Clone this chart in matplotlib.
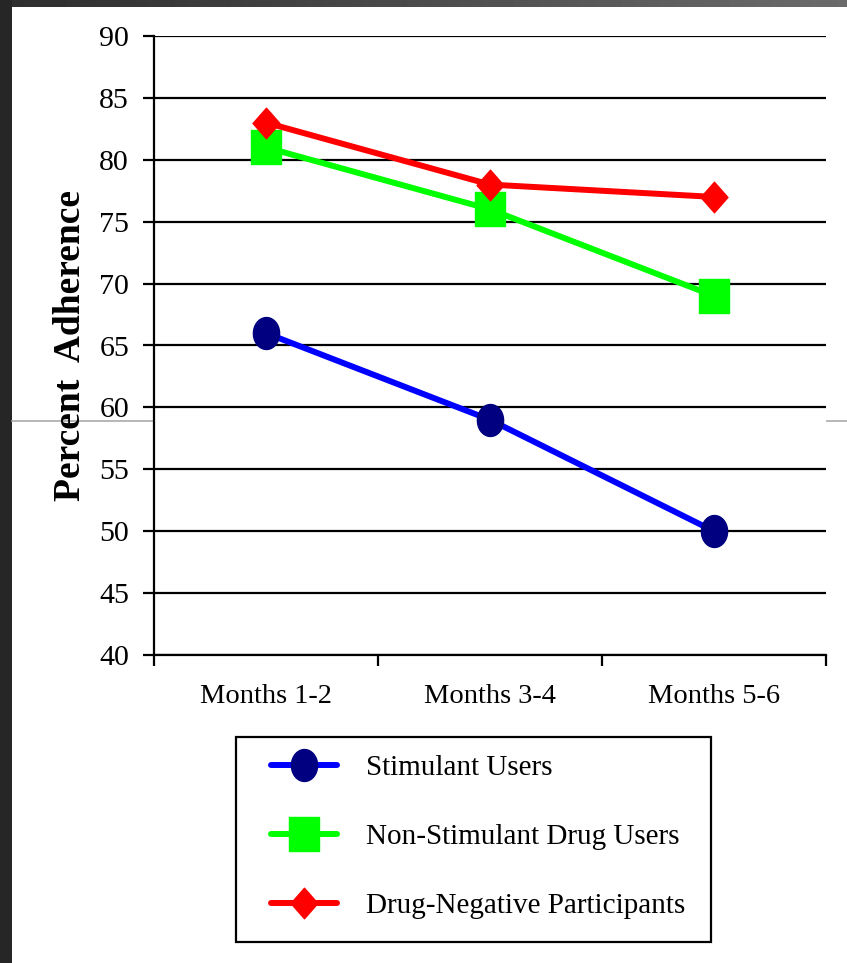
import numpy as np
import matplotlib
matplotlib.use("Agg")
import matplotlib.pyplot as plt
from matplotlib.path import Path
from matplotlib.patches import Rectangle

plt.rcParams["font.family"] = ["Liberation Serif", "DejaVu Serif"]

periods = ["Months 1-2", "Months 3-4", "Months 5-6"]
stimulant = [66, 59, 50]
non_stimulant = [81, 76, 69]
drug_negative = [83, 78, 77]
series_names = ["Stimulant Users", "Non-Stimulant Drug Users", "Drug-Negative Participants"]
y_ticks = [40, 45, 50, 55, 60, 65, 70, 75, 80, 85, 90]

W, H = 847, 963
fig = plt.figure(figsize=(W / 100, H / 100), dpi=100)

# slide frame: dark strip on the left, grey gradient strip on top
bg = fig.add_axes([0, 0, 1, 1], zorder=-10)
bg.set_axis_off()
bg.set_xlim(0, W)
bg.set_ylim(H, 0)
bg.add_patch(Rectangle((0, 0), 12, H, color="#262626", lw=0))
grad = np.linspace(0.18, 0.42, 256)[None, :]
bg.imshow(grad, cmap="gray", vmin=0, vmax=1, extent=(12, W, 7, 0), aspect="auto")
bg.add_patch(Rectangle((12, 7), W - 12, H - 7, color="white", lw=0))
bg.plot([12, W], [421, 421], color="#aaaaaa", lw=1.2)
# legend frame
bg.add_patch(Rectangle((236, 737), 711 - 236, 942 - 737, fill=False,
                       edgecolor="black", lw=1.6))

# slightly tall marker shapes
t = np.linspace(0, 2 * np.pi, 64)
tall_circle = Path(np.column_stack([0.41 * np.cos(t), 0.5 * np.sin(t)]), closed=True)
tall_square = Path([(-0.43, -0.5), (0.43, -0.5), (0.43, 0.5), (-0.43, 0.5), (-0.43, -0.5)], closed=True)
tall_diamond = Path([(0, -0.5), (0.44, 0), (0, 0.5), (-0.44, 0), (0, -0.5)], closed=True)

ax = fig.add_axes([154 / W, 1 - 655 / H, (826 - 154) / W, (655 - 36) / H])
x = np.arange(1, len(periods) + 1)

ax.plot(x, stimulant, color="#0000ff", lw=4.3, marker=tall_circle, ms=23,
        mfc="#000080", mec="#000080", label=series_names[0], zorder=3,
        solid_capstyle="round")
ax.plot(x, non_stimulant, color="#00ff00", lw=4.3, marker=tall_square, ms=24.5,
        mfc="#00ff00", mec="#00ff00", label=series_names[1], zorder=3,
        solid_capstyle="round")
ax.plot(x, drug_negative, color="#ff0000", lw=4.3, marker=tall_diamond, ms=22,
        mfc="#ff0000", mec="#ff0000", label=series_names[2], zorder=4,
        solid_capstyle="round")

ax.set_xlim(0.5, len(periods) + 0.5)
ax.set_ylim(40, 90)
ax.set_yticks(y_ticks)
ax.set_yticklabels([str(v) for v in y_ticks], fontsize=21.5)
ax.yaxis.grid(True, color="black", lw=1.6, zorder=1)
ax.set_axisbelow(True)

# category labels centred between tick marks at the bin edges
ax.set_xticks(np.arange(0.5, len(periods) + 1, 1.0))
ax.set_xticklabels([])
ax.set_xticks(x, minor=True)
ax.set_xticklabels(periods, minor=True, fontsize=20.5)
ax.tick_params(axis="x", which="minor", length=0, pad=21)
ax.tick_params(axis="x", which="major", length=8, width=1.6, direction="out")
ax.tick_params(axis="y", length=8, width=1.6, direction="out", pad=10)

for side in ("top", "right"):
    ax.spines[side].set_visible(False)
for side in ("left", "bottom"):
    ax.spines[side].set_linewidth(1.6)

ax.set_ylabel("Percent  Adherence", fontsize=27, fontweight="bold", labelpad=8)

fig.legend(loc="upper left", bbox_to_anchor=(271 / W, 1 - 755 / H),
           fontsize=21, frameon=False, handlelength=2.25, handletextpad=1.0,
           borderpad=0, labelspacing=1.46, borderaxespad=0)

fig.savefig("out.png", dpi=100)
